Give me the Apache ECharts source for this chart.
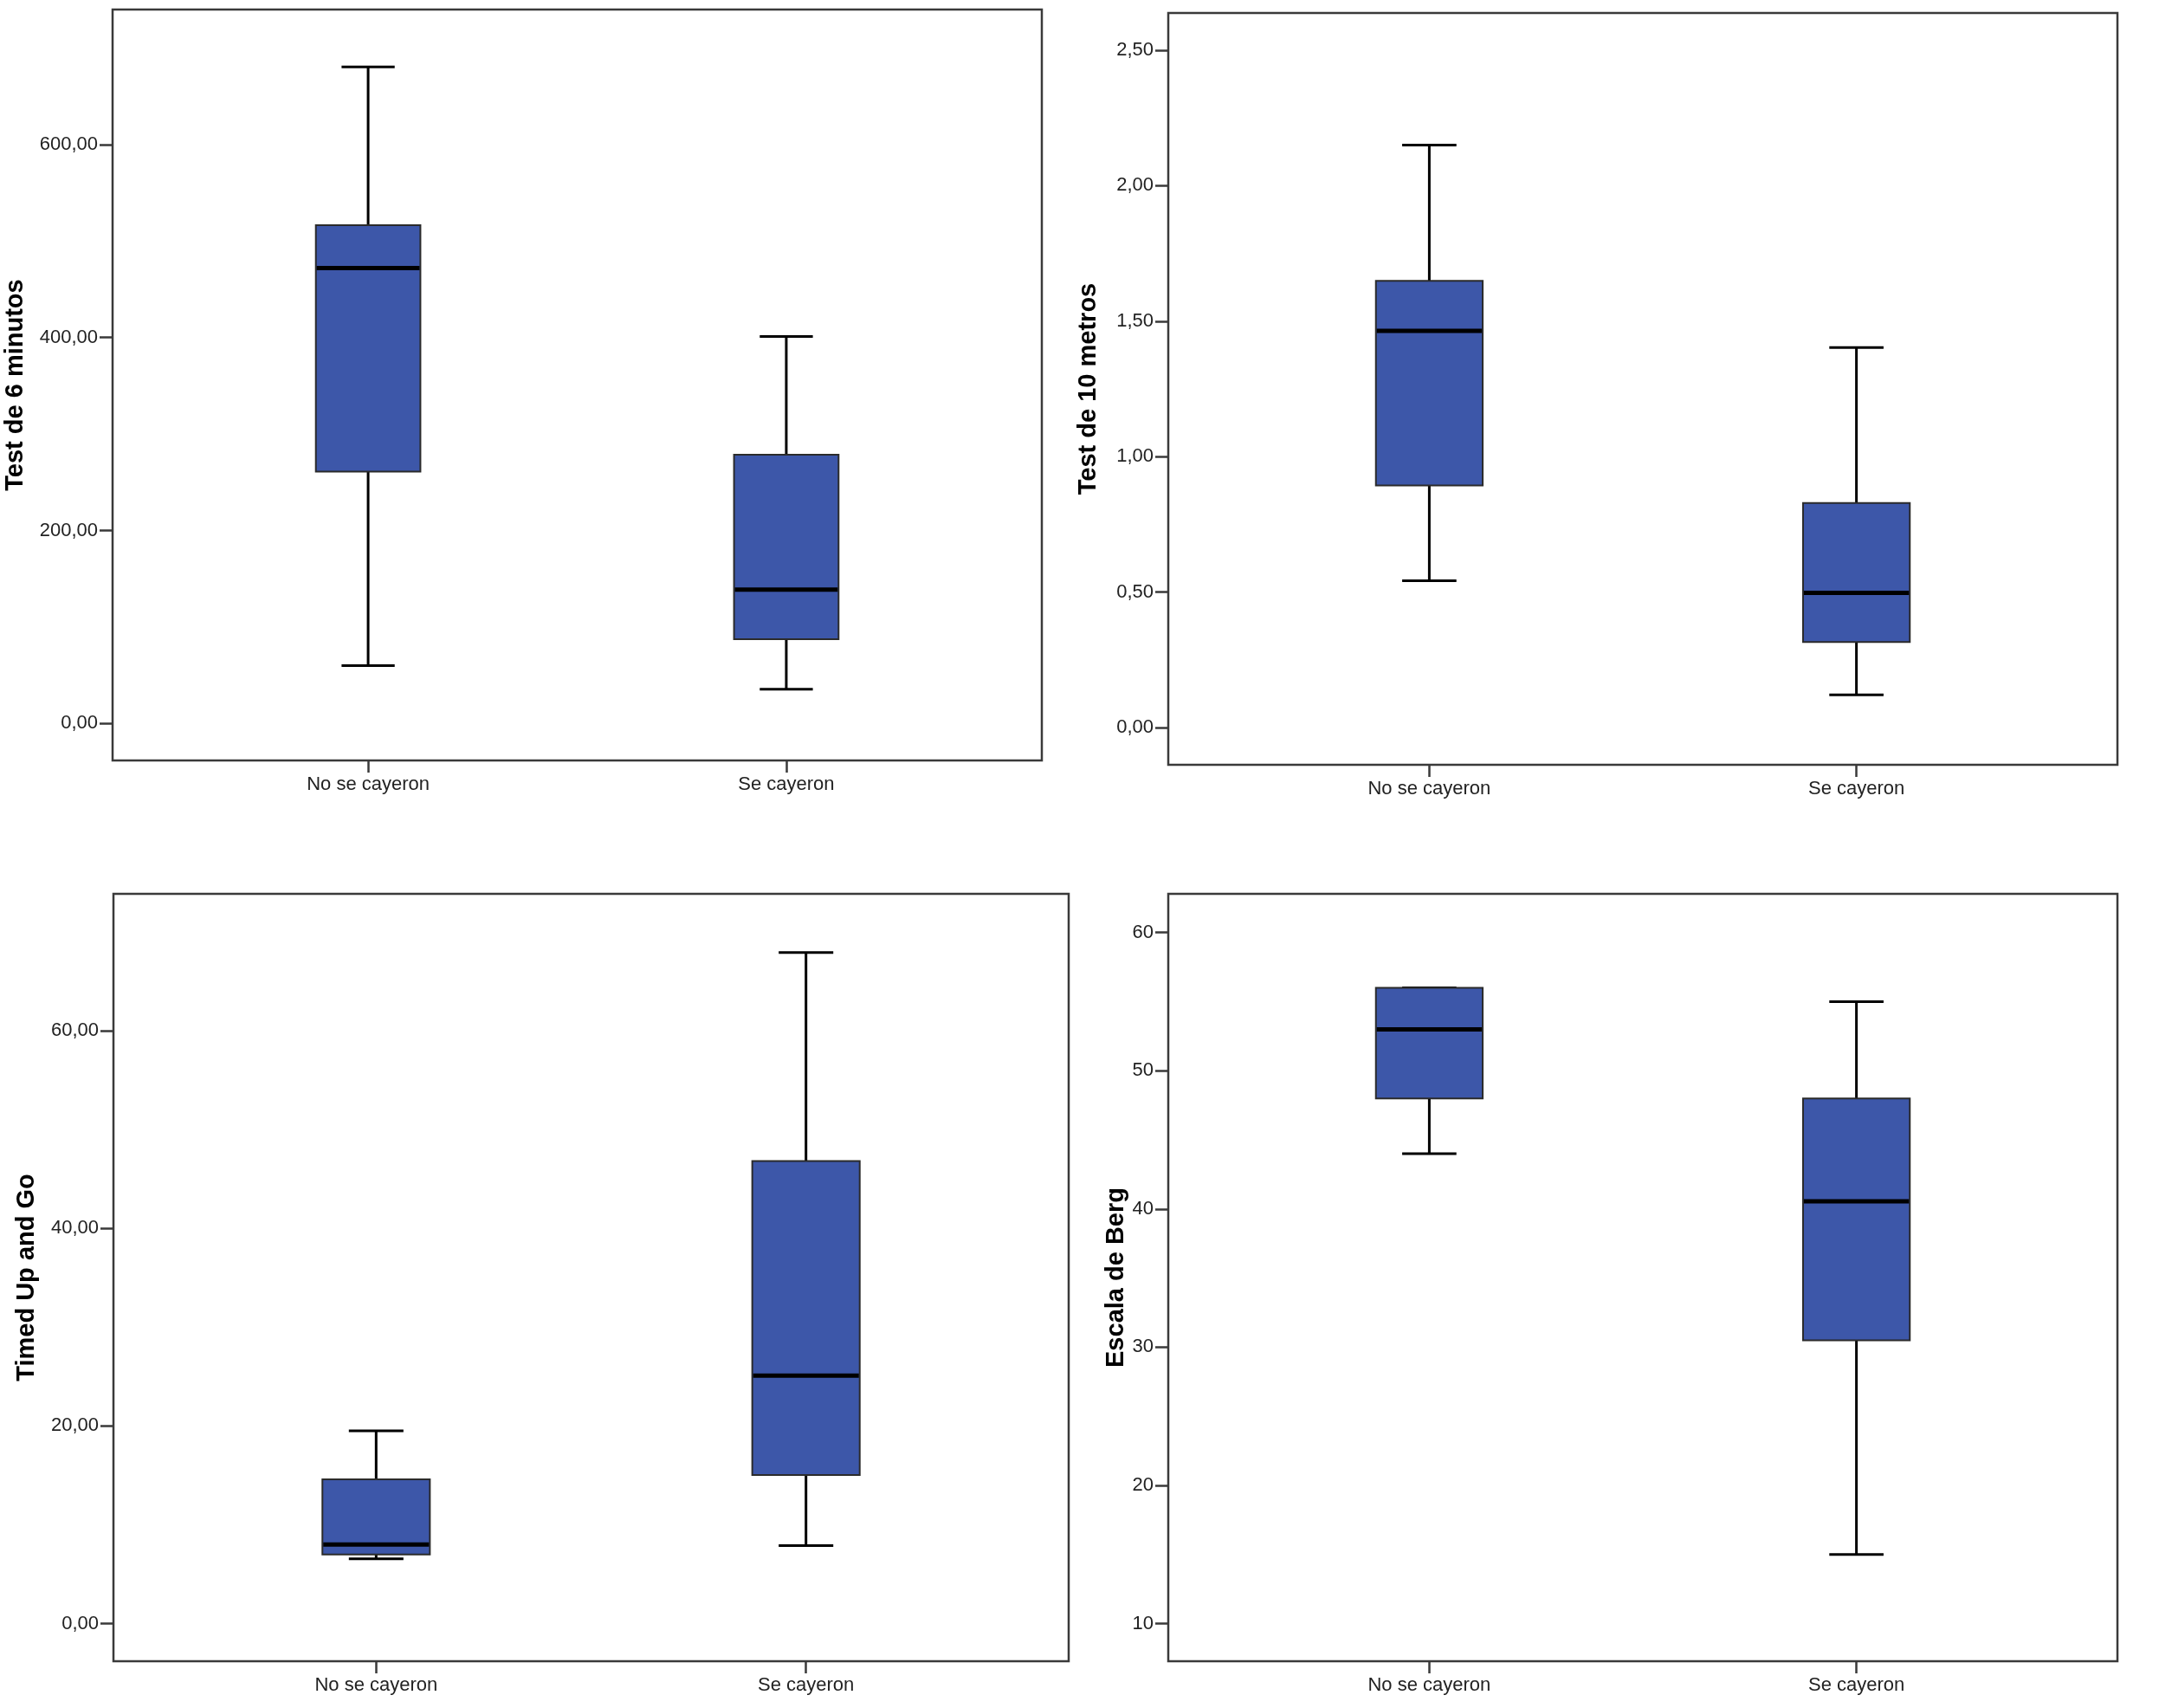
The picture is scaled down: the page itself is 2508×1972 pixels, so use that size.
<!DOCTYPE html>
<html>
<head>
<meta charset="utf-8">
<script src="https://cdn.jsdelivr.net/npm/echarts@6/dist/echarts.min.js"></script>
<style>
html,body{margin:0;padding:0;background:#fff;}
#chart{width:2508px;height:1972px;}
</style>
</head>
<body>
<div id="chart"></div>
<script>
// ---- data: [min, Q1, median, Q3, max] per group ----
const categories = ['No se cayeron', 'Se cayeron'];
const test6Min = [[60, 261, 472, 516.5, 680.5], [35.5, 87.4, 138.7, 278.6, 401]];
const test10m = [[0.542, 0.894, 1.464, 1.649, 2.15], [0.121, 0.316, 0.497, 0.829, 1.403]];
const timedUpGo = [[6.56, 7.0, 8.0, 14.6, 19.5], [7.9, 15.05, 25.1, 46.8, 67.9]];
const bergScale = [[44, 48, 53, 56, 56], [15, 30.5, 40.55, 48, 55]];
const ticks6Min = [0, 200, 400, 600];
const ticks10m = [0, 0.5, 1, 1.5, 2, 2.5];
const ticksTug = [0, 20, 40, 60];
const ticksBerg = [10, 20, 30, 40, 50, 60];
const titles = ['Test de 6 minutos', 'Test de 10 metros', 'Timed Up and Go', 'Escala de Berg'];

const chart = echarts.init(document.getElementById('chart'), null, {renderer: 'canvas'});

const FRAME = '#3a3a3a';
const BOX_FILL = '#3d57a9';
const X_MIN = -0.6111, X_MAX = 1.6111;
const HALF_BOX = 0.125, HALF_CAP = 0.0635;

const panels = [
  {data: test6Min, ticks: ticks6Min, min: -38.3, max: 739.9, fmt: v => v.toFixed(2).replace('.', ','),
   grid: {left: 130, top: 11, width: 1073, height: 867}, gap: 98},
  {data: test10m, ticks: ticks10m, min: -0.137, max: 2.637, fmt: v => v.toFixed(2).replace('.', ','),
   grid: {left: 1349, top: 15, width: 1096, height: 868}, gap: 78},
  {data: timedUpGo, ticks: ticksTug, min: -3.8, max: 73.84, fmt: v => v.toFixed(2).replace('.', ','),
   grid: {left: 131, top: 1032, width: 1103, height: 886}, gap: 86},
  {data: bergScale, ticks: ticksBerg, min: 7.28, max: 62.8, fmt: v => String(v),
   grid: {left: 1349, top: 1032, width: 1096, height: 886}, gap: 38}
];

function renderBox(params, api) {
  const x = api.value(0);
  const mn = api.value(1), q1 = api.value(2), med = api.value(3), q3 = api.value(4), mx = api.value(5);
  const c = (a, b) => api.coord([a, b]);
  const pMax = c(x, mx), pQ3 = c(x, q3), pQ1 = c(x, q1), pMin = c(x, mn);
  const capL = c(x - HALF_CAP, mx), capR = c(x + HALF_CAP, mx);
  const capL2 = c(x - HALF_CAP, mn), capR2 = c(x + HALF_CAP, mn);
  const boxTL = c(x - HALF_BOX, q3), boxBR = c(x + HALF_BOX, q1);
  const medL = c(x - HALF_BOX, med), medR = c(x + HALF_BOX, med);
  const lineStyle = {stroke: '#000', lineWidth: 3};
  return {
    type: 'group',
    children: [
      {type: 'line', shape: {x1: pQ3[0], y1: pQ3[1], x2: pMax[0], y2: pMax[1]}, style: lineStyle},
      {type: 'line', shape: {x1: capL[0], y1: capL[1], x2: capR[0], y2: capR[1]}, style: lineStyle},
      {type: 'line', shape: {x1: pQ1[0], y1: pQ1[1], x2: pMin[0], y2: pMin[1]}, style: lineStyle},
      {type: 'line', shape: {x1: capL2[0], y1: capL2[1], x2: capR2[0], y2: capR2[1]}, style: lineStyle},
      {type: 'rect', shape: {x: boxTL[0], y: boxTL[1], width: boxBR[0] - boxTL[0], height: boxBR[1] - boxTL[1]},
       style: {fill: BOX_FILL, stroke: '#2b2b2b', lineWidth: 2}},
      {type: 'line', shape: {x1: medL[0] + 1, y1: medL[1], x2: medR[0] - 1, y2: medR[1]}, style: {stroke: '#000', lineWidth: 5}}
    ]
  };
}

const option = {
  backgroundColor: '#fff',
  animation: false,
  grid: [],
  xAxis: [],
  yAxis: [],
  series: []
};

panels.forEach((p, i) => {
  option.grid.push(Object.assign({show: true, borderColor: FRAME, borderWidth: 2.5, backgroundColor: '#fff',
    containLabel: false, outerBoundsMode: 'none'}, p.grid));
  option.xAxis.push({
    gridIndex: i, type: 'value', min: X_MIN, max: X_MAX, position: 'bottom',
    axisLine: {show: false, onZero: false},
    splitLine: {show: false},
    axisTick: {show: true, inside: false, length: 14, customValues: [0, 1], lineStyle: {color: FRAME, width: 2.5}},
    axisLabel: {show: true, customValues: [0, 1], margin: 17, formatter: v => categories[Math.round(v)],
      fontFamily: 'Liberation Sans, Arial, sans-serif', fontSize: 22, color: '#222'}
  });
  option.yAxis.push({
    gridIndex: i, type: 'value', min: p.min, max: p.max, position: 'left',
    name: titles[i], nameLocation: 'middle', nameGap: p.gap, nameRotate: 90,
    nameTextStyle: {fontFamily: 'Liberation Sans, Arial, sans-serif', fontWeight: 'bold', fontSize: 29, color: '#000'},
    axisLine: {show: false, onZero: false},
    splitLine: {show: false},
    axisTick: {show: true, inside: false, length: 15, customValues: p.ticks, lineStyle: {color: FRAME, width: 2.5}},
    axisLabel: {show: true, customValues: p.ticks, margin: 17, formatter: p.fmt,
      fontFamily: 'Liberation Sans, Arial, sans-serif', fontSize: 22, color: '#222'}
  });
  option.series.push({
    type: 'custom', xAxisIndex: i, yAxisIndex: i,
    renderItem: renderBox,
    encode: {x: 0, y: [1, 2, 3, 4, 5]},
    data: p.data.map((d, k) => [k].concat(d)),
    clip: false
  });
});

chart.setOption(option);
</script>
</body>
</html>
